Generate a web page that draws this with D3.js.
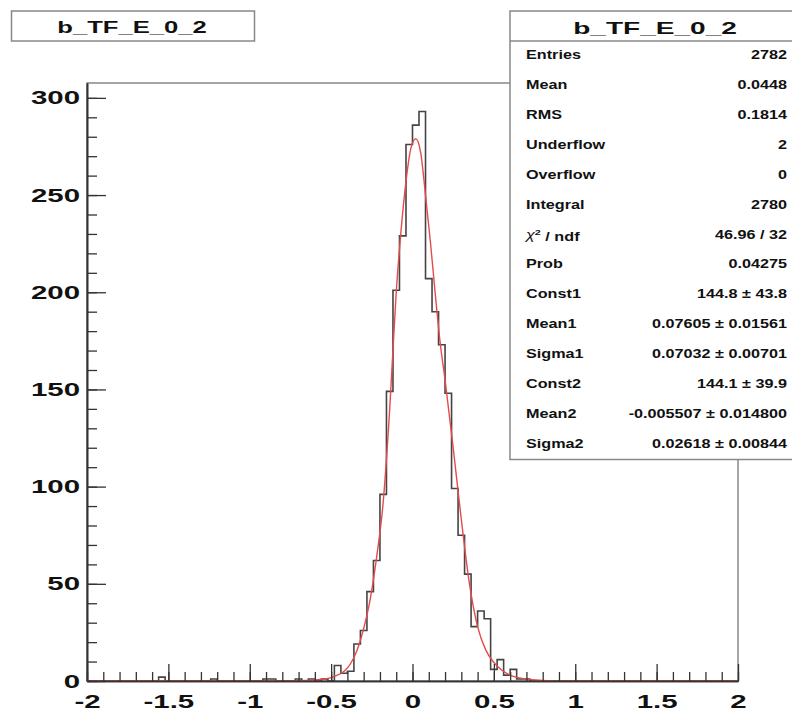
<!DOCTYPE html>
<html>
<head>
<meta charset="utf-8">
<script src="https://cdn.jsdelivr.net/npm/d3@7"></script>
<style>
  body { margin: 0; background: #fff; }
  svg text { font-family: "Liberation Sans", Arial, Helvetica, sans-serif; font-weight: bold; fill: #111; }
</style>
</head>
<body>
<svg id="chart" width="792" height="711"></svg>
<script>
const histName = "b_TF_E_0_2";
const xMin = -2, xMax = 2;

// bin contents, 100 bins of 0.04 from -2 to 2
const counts = [
  0, 0, 0, 0, 0, 0, 0, 0, 0, 0,
  0, 2, 0, 0, 0, 0, 0, 0, 0, 1,
  0, 0, 0, 0, 0, 0, 0, 1, 1, 0,
  0, 0, 1, 0, 1, 0, 1, 0, 8, 4,
  5, 19, 26, 46, 62, 96, 149, 201, 229, 276,
  286, 293, 207, 190, 173, 148, 99, 75, 55, 28,
  36, 32, 6, 11, 3, 6, 1, 1, 0, 0,
  0, 0, 0, 0, 0, 0, 0, 0, 0, 0,
  0, 0, 0, 0, 0, 0, 0, 0, 0, 0,
  0, 0, 0, 0, 0, 0, 0, 0, 0, 0
];

// fitted curve
const fitX = [-2, -0.8, -0.7, -0.6, -0.54, -0.48, -0.42, -0.38, -0.34, -0.3, -0.26, -0.22, -0.18, -0.14, -0.1, -0.07, -0.04, -0.01,
  0.02, 0.05, 0.08, 0.11, 0.14, 0.17, 0.2, 0.25, 0.3, 0.35, 0.4, 0.45, 0.5, 0.55, 0.6, 0.7, 0.8, 0.9, 2];
const fitY = [0, 0, 0.2, 0.6, 1, 2.4, 5, 9, 16, 27, 42, 64, 92, 140, 200, 232, 257, 274,
  279, 272, 250, 226, 199, 174, 155, 120, 83, 50, 28, 16, 9.5, 5.5, 3, 1, 0.3, 0, 0];

const xTicks = [-2, -1.5, -1, -0.5, 0, 0.5, 1, 1.5, 2];
const yTicks = [0, 50, 100, 150, 200, 250, 300];

const statLabels = ["Entries", "Mean", "RMS", "Underflow", "Overflow", "Integral", "chi2",
  "Prob", "Const1", "Mean1", "Sigma1", "Const2", "Mean2", "Sigma2"];
const statValues = ["2782", "0.0448", "0.1814", "2", "0", "2780", "46.96 / 32",
  "0.04275", "144.8 \u00b1 43.8", "0.07605 \u00b1 0.01561", "0.07032 \u00b1 0.00701",
  "144.1 \u00b1 39.9", "-0.005507 \u00b1 0.014800", "0.02618 \u00b1 0.00844"];

const svg = d3.select("#chart");
const frame = {left: 87, right: 738, top: 83, bottom: 681};
const stretch = 1.55; // the picture is stretched sideways, so the text is too

const binW = (xMax - xMin) / counts.length;
const yMax = 1.05 * d3.max(counts);

const x = d3.scaleLinear().domain([xMin, xMax]).range([frame.left, frame.right]);
const y = d3.scaleLinear().domain([0, yMax]).range([frame.bottom, frame.top]);

// frame
svg.append("rect")
  .attr("x", frame.left).attr("y", frame.top)
  .attr("width", frame.right - frame.left).attr("height", frame.bottom - frame.top)
  .attr("fill", "none").attr("stroke", "#888").attr("stroke-width", 1.5);

// histogram outline
const steps = counts.flatMap((c, i) => [[xMin + i * binW, c], [xMin + (i + 1) * binW, c]]);
svg.append("path")
  .datum(steps)
  .attr("fill", "none").attr("stroke", "#444").attr("stroke-width", 1.6)
  .attr("d", d3.line().x(d => x(d[0])).y(d => y(d[1])));

// fit
svg.append("path")
  .datum(d3.zip(fitX, fitY))
  .attr("fill", "none").attr("stroke", "#e54b4b").attr("stroke-width", 1.4)
  .attr("d", d3.line().x(d => x(d[0])).y(d => y(d[1])).curve(d3.curveMonotoneX));

// x axis
const xAxisG = svg.append("g").attr("transform", `translate(0,${frame.bottom})`).attr("color", "#333");
xAxisG.append("g")
  .call(d3.axisBottom(x).tickValues(d3.range(-20, 21).map(d => d / 10))
    .tickSize(-9).tickSizeOuter(0).tickFormat(""));
xAxisG.append("g")
  .call(d3.axisBottom(x).tickValues(xTicks).tickSize(-17).tickSizeOuter(0)
    .tickPadding(14).tickFormat(d => String(d)));
xAxisG.selectAll("path.domain").attr("stroke-width", 1.6);
xAxisG.selectAll("line").attr("stroke-width", 1.3);
xAxisG.selectAll("text").attr("font-size", 19).attr("transform", `scale(${stretch},1)`);

// y axis
const yAxisG = svg.append("g").attr("transform", `translate(${frame.left},0)`).attr("color", "#333");
yAxisG.append("g")
  .call(d3.axisLeft(y).tickValues(d3.range(0, 301, 10)).tickSize(-10).tickSizeOuter(0).tickFormat(""));
yAxisG.append("g")
  .call(d3.axisLeft(y).tickValues(yTicks).tickSize(-19).tickSizeOuter(0).tickPadding(4.5));
yAxisG.selectAll("path.domain").attr("stroke-width", 1.6);
yAxisG.selectAll("line").attr("stroke-width", 1.3);
yAxisG.selectAll("text").attr("font-size", 19).attr("transform", `scale(${stretch},1)`);

// title box
svg.append("rect")
  .attr("x", 11.5).attr("y", 11).attr("width", 243).attr("height", 30)
  .attr("fill", "#fff").attr("stroke", "#888").attr("stroke-width", 1.5);
svg.append("text")
  .attr("transform", `translate(132,32.5) scale(1.6,1)`)
  .attr("text-anchor", "middle").attr("font-size", 16)
  .text(histName);

// stats box
const stats = {left: 510, top: 11, right: 799, bottom: 459.5, head: 41};
const sb = svg.append("g");
sb.append("rect")
  .attr("x", stats.left).attr("y", stats.top)
  .attr("width", stats.right - stats.left).attr("height", stats.bottom - stats.top)
  .attr("fill", "#fff").attr("stroke", "#888").attr("stroke-width", 1.5);
sb.append("line")
  .attr("x1", stats.left).attr("x2", stats.right).attr("y1", stats.head).attr("y2", stats.head)
  .attr("stroke", "#888").attr("stroke-width", 1.5);
sb.append("text")
  .attr("transform", `translate(655,33.5) scale(1.65,1)`)
  .attr("text-anchor", "middle").attr("font-size", 17)
  .text(histName);

const rowY = d3.scaleLinear().domain([0, statLabels.length - 1]).range([55, 443.5]);
const rows = sb.selectAll("g.row").data(statLabels).join("g")
  .attr("class", "row")
  .attr("transform", (d, i) => `translate(0,${rowY(i)})`);

rows.append("text")
  .attr("transform", `translate(526,0) scale(1.35,1)`)
  .attr("dy", "0.35em").attr("font-size", 12)
  .each(function(d) {
    const t = d3.select(this);
    if (d === "chi2") {
      t.append("tspan").attr("font-weight", "normal").attr("font-style", "italic").text("\u03c7");
      t.append("tspan").attr("font-size", 8).attr("dy", "-0.5em").text("2");
      t.append("tspan").attr("dy", "0.5em").text(" / ndf");
    } else {
      t.text(d);
    }
  });

rows.append("text")
  .attr("transform", `translate(787,0) scale(1.35,1)`)
  .attr("dy", "0.35em").attr("font-size", 12).attr("text-anchor", "end")
  .text((d, i) => statValues[i]);
</script>
</body>
</html>
